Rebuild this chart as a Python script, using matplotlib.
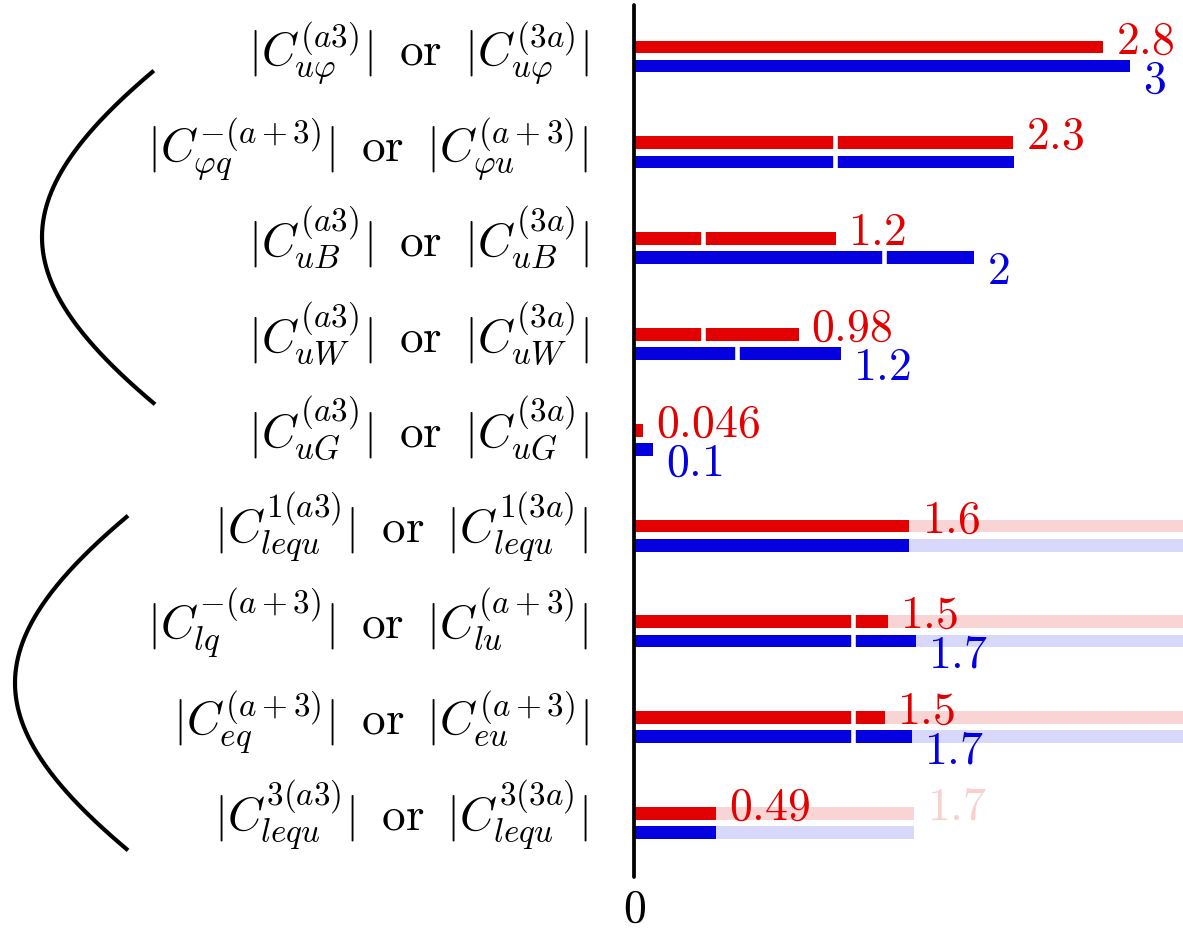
import numpy as np
import matplotlib
matplotlib.use("Agg")
import matplotlib.pyplot as plt
from matplotlib.lines import Line2D

plt.rcParams['mathtext.fontset'] = 'cm'
plt.rcParams['font.family'] = 'serif'
plt.rcParams['font.serif'] = ['cmr10', 'DejaVu Serif']

labels = [
    r'$|C^{(a3)}_{u\varphi}|\;\;\mathrm{or}\;\;|C^{(3a)}_{u\varphi}|$',
    r'$|C^{-(a+3)}_{\varphi q}|\;\;\mathrm{or}\;\;|C^{(a+3)}_{\varphi u}|$',
    r'$|C^{(a3)}_{uB}|\;\;\mathrm{or}\;\;|C^{(3a)}_{uB}|$',
    r'$|C^{(a3)}_{uW}|\;\;\mathrm{or}\;\;|C^{(3a)}_{uW}|$',
    r'$|C^{(a3)}_{uG}|\;\;\mathrm{or}\;\;|C^{(3a)}_{uG}|$',
    r'$|C^{1(a3)}_{lequ}|\;\;\mathrm{or}\;\;|C^{1(3a)}_{lequ}|$',
    r'$|C^{-(a+3)}_{lq}|\;\;\mathrm{or}\;\;|C^{(a+3)}_{lu}|$',
    r'$|C^{(a+3)}_{eq}|\;\;\mathrm{or}\;\;|C^{(a+3)}_{eu}|$',
    r'$|C^{3(a3)}_{lequ}|\;\;\mathrm{or}\;\;|C^{3(3a)}_{lequ}|$',
]

red_vals = [2.837, 2.294, 1.218, 0.994, 0.054, 1.663, 1.533, 1.515, 0.495]
blue_vals = [3.0, 2.299, 2.056, 1.248, 0.113, 1.663, 1.702, 1.678, 0.495]
red_text = ['2.8', '2.3', '1.2', '0.98', '0.046', '1.6', '1.5', '1.5', '0.49']
blue_text = ['3', '', '2', '1.2', '0.1', '', '1.7', '1.7', '']

# faded extensions (rows 6-8 run off the right edge)
light_vals = [0, 0, 0, 0, 0, 3.6, 3.6, 3.6, 1.695]
light_text = ['', '', '', '', '', '', '', '', '1.7']

# white breaks in bars: (row, x)
red_breaks = [(1, 1.216), (2, 0.415), (3, 0.415), (6, 1.324), (7, 1.324)]
blue_breaks = [(1, 1.216), (2, 1.513), (3, 0.62), (6, 1.324), (7, 1.324)]

RED = '#e30000'
BLUE = '#0500e0'
LRED = '#f9d4d4'
LBLUE = '#d8d8fa'
LTXT = '#f8d0d0'

W, H = 1183, 931
fig = plt.figure(figsize=(W / 100, H / 100), dpi=100)
ax = fig.add_axes([634.4 / W, 1 - 877 / H, 1 - 634.4 / W, (877 - 5) / H])

rows = np.arange(len(labels))
off = 0.1
h = 0.133

ax.barh(rows - off, light_vals, height=h, color=LRED, zorder=1)
ax.barh(rows + off, light_vals, height=h, color=LBLUE, zorder=1)
ax.barh(rows - off, red_vals, height=h, color=RED, zorder=2)
ax.barh(rows + off, blue_vals, height=h, color=BLUE, zorder=2)

for r, x in red_breaks:
    ax.vlines(x, r - off - h / 2 - 0.01, r - off + h / 2 + 0.01, color='white', lw=3.3, zorder=3)
for r, x in blue_breaks:
    ax.vlines(x, r + off - h / 2 - 0.01, r + off + h / 2 + 0.01, color='white', lw=3.3, zorder=3)

fs = 33
for i in rows:
    if red_text[i]:
        ax.annotate('$' + red_text[i] + '$', (red_vals[i], i - off + h / 2),
                    xytext=(9, 0), textcoords='offset points',
                    color=RED, fontsize=fs, va='baseline', ha='left', zorder=4)
    if blue_text[i]:
        ax.annotate('$' + blue_text[i] + '$', (blue_vals[i], i + off - h / 2),
                    xytext=(9, 0), textcoords='offset points',
                    color=BLUE, fontsize=fs, va='top', ha='left', zorder=4)
    if light_text[i]:
        ax.annotate('$' + light_text[i] + '$', (light_vals[i], i - off + h / 2),
                    xytext=(9, 0), textcoords='offset points',
                    color=LTXT, fontsize=fs, va='baseline', ha='left', zorder=4)
    # row label, baseline a little below the row centre
    ax.annotate(labels[i], (0, i + 0.09), xytext=(-33, 0), textcoords='offset points',
                fontsize=34, ha='right', va='baseline', annotation_clip=False)

ax.set_xlim(0, 3.32)
ax.set_ylim(8.564, -0.538)
ax.set_yticks([])
ax.set_xticks([0])
ax.set_xticklabels(['$0$'], fontsize=fs)
ax.tick_params(axis='x', length=0, pad=9)
for s in ['top', 'right', 'bottom']:
    ax.spines[s].set_visible(False)
ax.spines['left'].set_linewidth(2.7)
ax.spines['left'].set_capstyle('round')
ax.spines['left'].set_zorder(5)


# curved brackets on the left, in figure pixels
def bracket(y0, y1, xv, yv, a=372, b=200):
    yy = np.linspace(y0, y1, 200)
    xx = xv + a * (np.sqrt(1 + ((yy - yv) / b) ** 2) - 1)
    fig.add_artist(Line2D(xx / W, 1 - yy / H, lw=3, color='black',
                          transform=fig.transFigure))


bracket(72, 403, 42, 237)
bracket(517, 849, 15, 683)

fig.savefig('out.png', dpi=100)
